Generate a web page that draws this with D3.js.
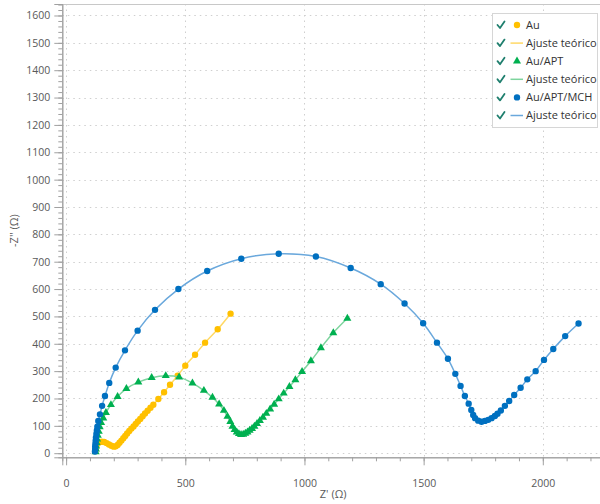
<!DOCTYPE html>
<html>
<head>
<meta charset="utf-8">
<script src="https://cdn.jsdelivr.net/npm/d3@7"></script>
<style>
  html, body { margin: 0; padding: 0; background: #ffffff; }
  svg { display: block; font-family: "Open Sans", "Noto Sans", sans-serif; }
</style>
</head>
<body>
<svg id="chart" width="600" height="504"></svg>
<script>
// Nyquist data: Z' (Ω) vs -Z'' (Ω), one array per electrode
const seriesNames = ["Au", "Au/APT", "Au/APT/MCH"];
const fitName = "Ajuste teórico";

const auPoints = [
  [122, 8], [124, 18], [127, 27], [132, 35], [140, 40], [150, 42], [160, 41], [170, 37],
  [180, 32], [190, 27], [200, 24], [208, 25], [216, 30], [224, 38], [232, 46], [240, 55],
  [248, 63], [256, 72], [265, 81], [274, 90], [283, 98], [292, 107], [301, 116], [311, 125],
  [321, 135], [331, 145], [342, 155], [354, 166], [366, 177], [387, 198], [411, 223],
  [436, 250], [468, 283], [500, 320], [541, 360], [583, 404], [636, 453], [690, 510]
];

const aptPoints = [
  [124, 5], [125, 15], [126, 26], [128, 38], [130, 51], [133, 65], [137, 80], [141, 96],
  [147, 112], [156, 128], [167, 148], [188, 177], [216, 207], [253, 236], [303, 260],
  [359, 276], [418, 283], [474, 278], [530, 256], [578, 229], [614, 204], [642, 179],
  [662, 156], [677, 134], [689, 115], [698, 98], [707, 86], [716, 77], [725, 71],
  [734, 68], [743, 69], [752, 72], [761, 77], [770, 83], [780, 90], [790, 98], [801, 108],
  [813, 119], [826, 131], [840, 145], [856, 161], [873, 178], [892, 198], [913, 219],
  [937, 243], [962, 268], [990, 298], [1027, 337], [1069, 385], [1121, 440], [1180, 493]
];

const mchPoints = [
  [121, 6], [122, 15], [122, 25], [123, 35], [124, 46], [125, 57], [127, 70], [129, 83],
  [131, 97], [135, 118], [142, 142], [151, 173], [163, 209], [181, 257], [208, 313],
  [247, 376], [300, 448], [373, 524], [471, 600], [592, 666], [735, 711], [892, 729],
  [1048, 719], [1194, 677], [1320, 618], [1420, 547], [1498, 475], [1556, 404],
  [1602, 345], [1633, 290], [1655, 246], [1673, 209], [1689, 181], [1700, 158],
  [1708, 140], [1716, 128], [1729, 119], [1743, 115], [1757, 118], [1771, 122],
  [1785, 128], [1799, 136], [1810, 144], [1824, 156], [1841, 173], [1859, 191],
  [1880, 213], [1907, 239], [1935, 270], [1970, 300], [2005, 341], [2044, 381],
  [2094, 428], [2150, 474]
];

// the fitted equivalent-circuit curves run through the measured points
const auFit = auPoints;
const aptFit = aptPoints;
const mchFit = mchPoints;

const xTicks = [0, 500, 1000, 1500, 2000];
const yTicks = [0, 100, 200, 300, 400, 500, 600, 700, 800, 900, 1000, 1100, 1200, 1300, 1400, 1500, 1600];

const series = [
  { name: seriesNames[0], points: auPoints, fit: auFit, symbol: "circle", color: "#FFC000", fitColor: "#FFD966" },
  { name: seriesNames[1], points: aptPoints, fit: aptFit, symbol: "triangle", color: "#00B050", fitColor: "#7ED49E" },
  { name: seriesNames[2], points: mchPoints, fit: mchFit, symbol: "circle", color: "#0070C0", fitColor: "#6AA8DC" }
];

const svg = d3.select("#chart");
const plot = { left: 62.3, right: 600, top: 4, bottom: 457.3 };

const x = d3.scaleLinear().domain([-16, 2240]).range([plot.left, plot.right]);
const y = d3.scaleLinear().domain([-15, 1642]).range([plot.bottom, plot.top]);

// dotted grid
const grid = svg.append("g").attr("stroke", "#cfcfcf").attr("stroke-width", 1).attr("stroke-dasharray", "1.5,4");
grid.selectAll(".gy").data(yTicks).join("line")
  .attr("x1", plot.left).attr("x2", plot.right)
  .attr("y1", d => Math.round(y(d)) + 0.5).attr("y2", d => Math.round(y(d)) + 0.5);
grid.selectAll(".gx").data(xTicks).join("line")
  .attr("y1", plot.top).attr("y2", plot.bottom)
  .attr("x1", d => Math.round(x(d)) + 0.5).attr("x2", d => Math.round(x(d)) + 0.5);

// frame top edge
svg.append("line")
  .attr("x1", plot.left).attr("x2", plot.right)
  .attr("y1", plot.top + 0.5).attr("y2", plot.top + 0.5)
  .attr("stroke", "#c8c8c8");

// axes
const axisColor = "#a0a0a0";
const labelColor = "#595959";

const xMinor = svg.append("g").attr("transform", `translate(0,${plot.bottom})`)
  .call(d3.axisBottom(x).tickValues(d3.range(0, 2241, 100)).tickSize(4).tickFormat(""));
const xMajor = svg.append("g").attr("transform", `translate(0,${plot.bottom})`)
  .call(d3.axisBottom(x).tickValues(xTicks).tickSize(8).tickPadding(14).tickFormat(d3.format("d")));
const yMinor = svg.append("g").attr("transform", `translate(${plot.left},0)`)
  .call(d3.axisLeft(y).tickValues(d3.range(0, 1641, 20)).tickSize(4).tickFormat(""));
const yMajor = svg.append("g").attr("transform", `translate(${plot.left},0)`)
  .call(d3.axisLeft(y).tickValues(yTicks).tickSize(8).tickPadding(4).tickFormat(d3.format("d")));

[xMinor, xMajor, yMinor, yMajor].forEach(g => {
  g.selectAll(".domain").attr("stroke", axisColor);
  g.selectAll(".tick line").attr("stroke", axisColor);
  g.selectAll(".tick text").attr("fill", labelColor).attr("font-size", 10.5)
    .attr("font-family", "'Open Sans', 'Noto Sans', sans-serif");
});

// axis titles
svg.append("text")
  .attr("x", (plot.left + plot.right) / 2 + 2).attr("y", 498)
  .attr("text-anchor", "middle").attr("font-size", 11).attr("fill", labelColor)
  .text("Z' (Ω)");
svg.append("text")
  .attr("transform", `translate(18,${(plot.top + plot.bottom) / 2}) rotate(-90)`)
  .attr("text-anchor", "middle").attr("font-size", 11).attr("fill", labelColor)
  .text("-Z'' (Ω)");

// data
svg.append("clipPath").attr("id", "plotClip").append("rect")
  .attr("x", plot.left).attr("y", plot.top).attr("width", plot.right - plot.left).attr("height", plot.bottom - plot.top);
const layer = svg.append("g").attr("clip-path", "url(#plotClip)");

const line = d3.line().x(d => x(d[0])).y(d => y(d[1])).curve(d3.curveCatmullRom.alpha(0.5));
const circleSym = d3.symbol().type(d3.symbolCircle).size(32);
const triSym = d3.symbol().type(d3.symbolTriangle).size(28);

series.forEach(s => {
  layer.append("path").datum(s.fit)
    .attr("d", line).attr("fill", "none")
    .attr("stroke", s.fitColor).attr("stroke-width", 1.5);
  layer.append("g").selectAll("path").data(s.points).join("path")
    .attr("transform", d => `translate(${x(d[0])},${y(d[1])})`)
    .attr("d", s.symbol === "circle" ? circleSym : triSym)
    .attr("fill", s.color);
});

// legend
const legend = svg.append("g").attr("transform", "translate(492,13)");
legend.append("rect").attr("x", 0.5).attr("y", 0.5).attr("width", 105).attr("height", 114)
  .attr("fill", "#ffffff").attr("stroke", "#d6d6d6");

const legendRows = [];
series.forEach(s => {
  legendRows.push({ label: s.name, kind: s.symbol, color: s.color });
  legendRows.push({ label: fitName, kind: "line", color: s.fitColor });
});

const rowH = 18.1;
legendRows.forEach((r, i) => {
  const g = legend.append("g").attr("transform", `translate(0,${12 + i * rowH})`);
  g.append("path")
    .attr("d", "M5.5,0 L8,3 L12.5,-3.5")
    .attr("fill", "none").attr("stroke", "#1F7F6E").attr("stroke-width", 1.8)
    .attr("stroke-linecap", "round").attr("stroke-linejoin", "round");
  if (r.kind === "line") {
    g.append("line").attr("x1", 18.5).attr("x2", 31).attr("y1", 0).attr("y2", 0)
      .attr("stroke", r.color).attr("stroke-width", 1.5);
  } else {
    g.append("path").attr("transform", "translate(25,0)")
      .attr("d", r.kind === "circle" ? circleSym : triSym)
      .attr("fill", r.color);
  }
  g.append("text").attr("x", 34).attr("y", 0).attr("dy", "0.35em")
    .attr("font-size", 11).attr("fill", "#333333")
    .text(r.label);
});
</script>
</body>
</html>
